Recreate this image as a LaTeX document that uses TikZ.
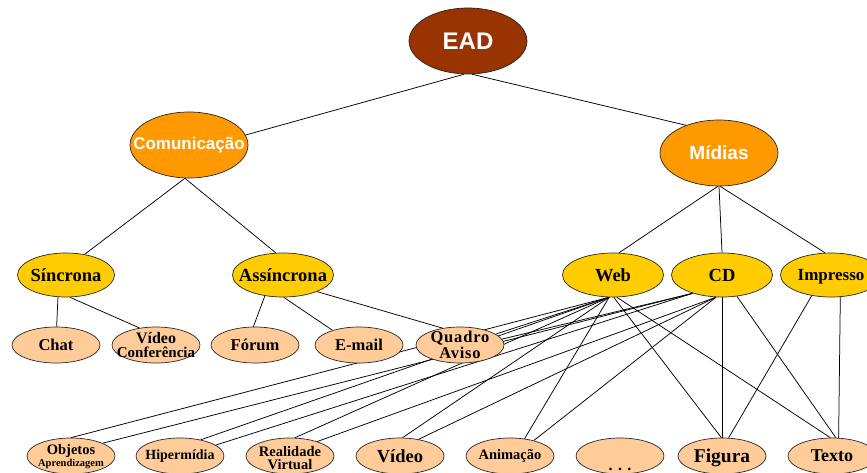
\documentclass[tikz,border=0pt]{standalone}
\usepackage{fontspec}
\setmainfont{Liberation Serif}
\newfontfamily\headfont{Liberation Sans}
\usetikzlibrary{shapes.geometric}
\pgfdeclarelayer{bg}
\pgfsetlayers{bg,main}
\definecolor{eadc}{HTML}{993300}
\definecolor{orng}{HTML}{FF9900}
\definecolor{yel}{HTML}{FFCC00}
\definecolor{peach}{HTML}{FFCC99}
\tikzset{
  oval/.style args={#1/#2}{ellipse, draw=black!85, line width=0.7pt,
    minimum width=#1, minimum height=#2, inner sep=0pt},
  lvtop/.style={oval=118pt/66pt, fill=orng},
  lvtwo/.style={oval=101pt/44pt, fill=yel},
  lvthree/.style={oval=88pt/36pt, fill=peach},
  conn/.style={draw=black, line width=0.75pt},
  lab/.style args={#1/#2}{font=\bfseries\fontsize{#1}{#2}\selectfont,
    align=center, inner sep=0pt},
  splab/.style={font=\bfseries\fontsize{16.5}{16}\selectfont\addfontfeature{LetterSpace=5},
    align=center, inner sep=0pt},
  hlab/.style={font=\headfont\bfseries\fontsize{#1}{#1}\selectfont,
    text=white, inner sep=0pt},
}
\begin{document}
\begin{tikzpicture}[x=1pt,y=-1pt]
\useasboundingbox (0,0) rectangle (867,472);

% top level
\node[lvtop, fill=eadc, label={[hlab=24]center:EAD}] (ead) at (468,41) {};
\node[lvtop, label={[hlab=17]center:Comunicação}] (com) at (189,145) {};
\node[lvtop, label={[hlab=19]center:Mídias}] (mid) at (719,153) {};

% level 2
\node[lvtwo, oval=97pt/44pt, label={[lab=18.5/20]center:Síncrona}] (sinc) at (66,275) {};
\node[lvtwo, label={[lab=18.5/20]center:Assíncrona}] (assinc) at (283,275) {};
\node[lvtwo, label={[lab=18.5/20]center:Web}] (web) at (613,275) {};
\node[lvtwo, label={[lab=18.5/20]center:CD}] (cd) at (722,275) {};
\node[lvtwo, label={[lab=17/20, yshift=-1.5pt]center:Impresso}] (imp) at (831,275) {};

% level 3
\node[lvthree, label={[lab=16.5/18]center:Chat}] (chat) at (56,345) {};
\node[lvthree, label={[lab=15/13.5]center:{\fontsize{16}{13.5}\selectfont Vídeo}\\Conferência}] (vc) at (156,345) {};
\node[lvthree, label={[lab=16.5/18]center:Fórum}] (forum) at (255,345) {};
\node[lvthree, label={[lab=16.5/18]center:E-mail}] (email) at (359,345) {};
\node[lvthree, label={[splab]center:Quadro\\Aviso}] (quadro) at (460,345) {};

% bottom row
\node[lvthree, label={[lab=14.5/12, yshift=-1pt]center:Objetos\\{\fontsize{10.5}{12}\selectfont Aprendizagem}}] (obj) at (71,456) {};
\node[lvthree, label={[lab=14/16]center:Hipermídia}] (hip) at (180,456) {};
\node[lvthree, label={[lab=14.5/13.5, yshift=-2pt]center:Realidade\\Virtual}] (rv) at (290,456) {};
\node[lvthree, label={[lab=18.5/20]center:Vídeo}] (video) at (400,456) {};
\node[lvthree, label={[lab=14.5/16]center:Animação}] (anim) at (510,456) {};
\node[lvthree] (etc) at (620,456) {};
\node[lab=16/16, anchor=base] (etctext) at (620,470.5) {. . .};
\node[lvthree, label={[lab=19.5/20, yshift=-1.5pt]center:Figura}] (fig) at (722,456) {};
\node[lvthree, label={[lab=18/20]center:Texto}] (texto) at (832,456) {};

\begin{pgfonlayer}{bg}
  \draw[conn] (ead.-97) -- (com.10);
  \draw[conn] (ead.-83) -- (mid.140);
  \draw[conn] (com.-97) -- (sinc.48);
  \draw[conn] (com.-97) -- (assinc.108);
  \draw[conn] (mid.-92) -- (web.75);
  \draw[conn] (mid.-90) -- (cd.north);
  \draw[conn] (mid.-88) -- (imp.105);

  \draw[conn] (sinc.-110) -- (chat.88);
  \draw[conn] (sinc.-80) -- (vc.134);
  \draw[conn] (assinc.-131) -- (forum.95);
  \draw[conn] (assinc.-88) -- (email.151);
  \draw[conn] (assinc.-26) -- (quadro.136);

  % Web
  \draw[conn] (web.-100) -- (quadro.17);
  \draw[conn] (web.-100) -- (obj.90);
  \draw[conn] (web.-100) -- (hip.38);
  \draw[conn] (web.-100) -- (rv.75);
  \draw[conn] (web.-100) -- (video.82);
  \draw[conn] (web.-100) -- (anim.50);
  \draw[conn] (web.-88) -- (fig.92);
  \draw[conn] (web.-80) -- (texto.95);

  % CD
  \draw[conn] (cd.-148) -- (quadro.8);
  \draw[conn] (cd.-148) -- (obj.22);
  \draw[conn] (cd.-148) -- (hip.17);
  \draw[conn] (cd.-105) -- (rv.28);
  \draw[conn] (cd.-105) -- (video.42);
  \draw[conn] (cd.-105) -- (anim.33);
  \draw[conn] (cd.south) -- (fig.north);
  \draw[conn] (cd.-55) -- (texto.78);

  % Impresso
  \draw[conn] (imp.-133) -- (fig.70);
  \draw[conn] (imp.-67) -- (texto.70);
\end{pgfonlayer}
\end{tikzpicture}
\end{document}
